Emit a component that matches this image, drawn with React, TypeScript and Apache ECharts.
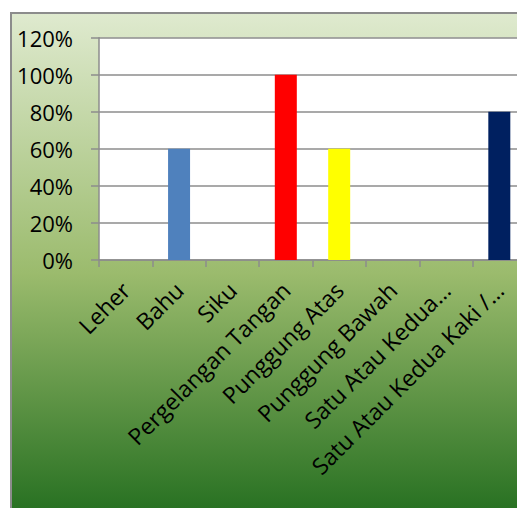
import React, { useEffect, useRef } from "react";
import * as echarts from "echarts";

const categories = [
  "Leher",
  "Bahu",
  "Siku",
  "Pergelangan Tangan",
  "Punggung Atas",
  "Punggung Bawah",
  "Satu Atau Kedua…",
  "Satu Atau Kedua Kaki /…",
];
const values = [0, 0.6, 0, 1.0, 0.6, 0, 0, 0.8];
const barColors = ["#4F81BD", "#4F81BD", "#4F81BD", "#FF0000", "#FFFF00", "#4F81BD", "#4F81BD", "#002060"];
const yTicks = { min: 0, max: 1.2, interval: 0.2 };

export default function App() {
  const ref = useRef<HTMLDivElement>(null);
  useEffect(() => {
    if (!ref.current) return;
    const chart = echarts.init(ref.current, undefined, { renderer: "svg" });
    const font = "'Open Sans', sans-serif";
    chart.setOption({
      animation: false,
      backgroundColor: "#ffffff",
      graphic: [
        {
          type: "rect",
          z: -10,
          silent: true,
          shape: { x: 11, y: 13, width: 530, height: 520 },
          style: {
            fill: new echarts.graphic.LinearGradient(0, 0, 0, 1, [
              { offset: 0, color: "#dfeacf" },
              { offset: 0.5, color: "#9bbb6d" },
              { offset: 1, color: "#1d6a1b" },
            ]),
            stroke: "#8c8c8c",
            lineWidth: 2,
          },
        },
      ],
      grid: {
        left: 99,
        top: 37.7,
        right: 10,
        bottom: 248,
        show: true,
        backgroundColor: "#ffffff",
        borderWidth: 0,
        containLabel: false,
      },
      xAxis: {
        type: "category",
        data: categories,
        axisLine: { show: true, lineStyle: { color: "#8c8c8c", width: 1.5 } },
        axisTick: { show: true, alignWithLabel: false, length: 7, lineStyle: { color: "#8c8c8c", width: 1.5 } },
        axisLabel: {
          interval: 0,
          rotate: 45,
          margin: 26,
          fontFamily: font,
          fontSize: 23,
          color: "#000000",
        },
      },
      yAxis: {
        type: "value",
        min: yTicks.min,
        max: yTicks.max,
        interval: yTicks.interval,
        axisLine: { show: true, lineStyle: { color: "#8c8c8c", width: 1.5 } },
        axisTick: { show: true, length: 8, lineStyle: { color: "#8c8c8c", width: 1.5 } },
        splitLine: { show: true, lineStyle: { color: "#8c8c8c", width: 1.5 } },
        axisLabel: {
          margin: 26,
          fontFamily: font,
          fontSize: 22,
          color: "#000000",
          formatter: (v: number) => Math.round(v * 100) + "%",
        },
      },
      series: [
        {
          type: "bar",
          barWidth: 22,
          data: values.map((v, i) => ({ value: v, itemStyle: { color: barColors[i] } })),
        },
      ],
    });
    return () => chart.dispose();
  }, []);
  return (
    <div style={{ position: "absolute", left: 0, top: 0, width: 517, height: 508, overflow: "hidden" }}>
      <div ref={ref} style={{ width: 536, height: 508 }} />
    </div>
  );
}
